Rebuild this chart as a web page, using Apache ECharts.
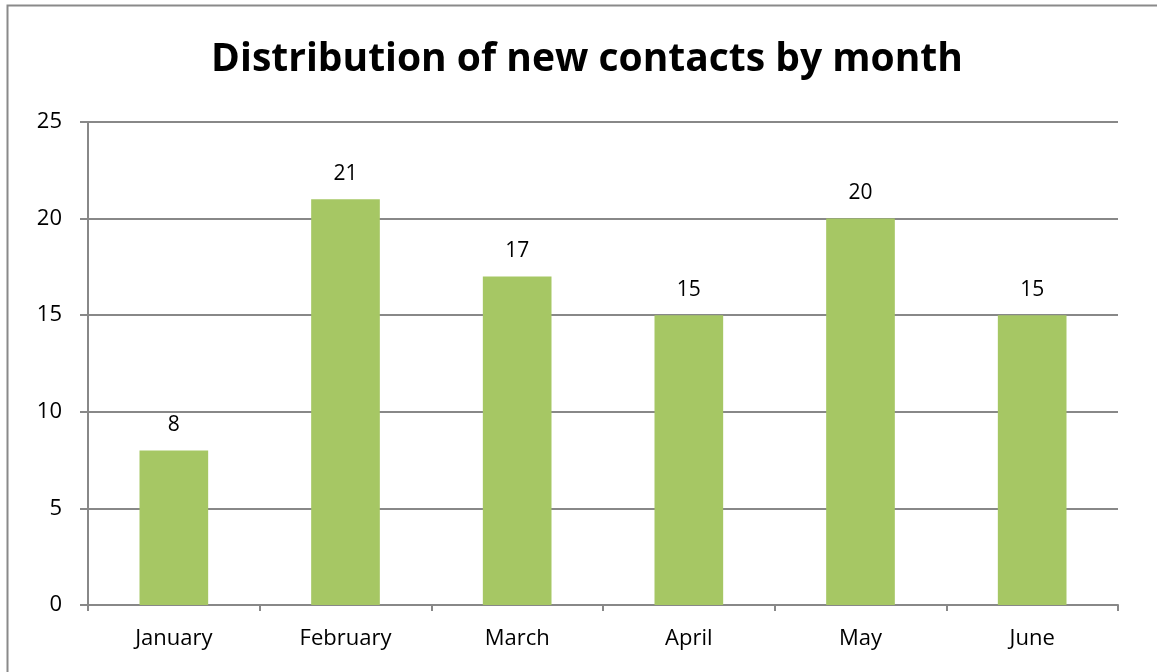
<!DOCTYPE html>
<html>
<head>
<meta charset="utf-8">
<script src="https://cdn.jsdelivr.net/npm/echarts@6/dist/echarts.min.js"></script>
<style>
  html, body { margin: 0; padding: 0; background: #fff; }
  #main { width: 1157px; height: 672px; }
</style>
</head>
<body>
<div id="main"></div>
<script>
var months = ["January", "February", "March", "April", "May", "June"];
var contacts = [8, 21, 17, 15, 20, 15];
var yTicks = [0, 5, 10, 15, 20, 25];

var chart = echarts.init(document.getElementById("main"));
var gridColor = "#888888";
var font = "Open Sans, Liberation Sans, sans-serif";

var option = {
  animation: false,
  backgroundColor: "#fff",
  textStyle: { fontFamily: font },
  graphic: [{
    type: "rect",
    shape: { x: 7.5, y: 5.5, width: 1160, height: 700 },
    style: { fill: "none", stroke: "#8a8a8a", lineWidth: 2 },
    silent: true
  }],
  title: {
    text: "Distribution of new contacts by month",
    left: 582,
    textAlign: "center",
    top: 35,
    textStyle: { fontSize: 39, fontWeight: "bold", color: "#000", fontFamily: font }
  },
  grid: { left: 88, right: 39, top: 122, bottom: 67 },
  xAxis: {
    type: "category",
    data: months,
    axisLine: { lineStyle: { color: gridColor, width: 2 } },
    axisTick: { show: true, length: 6, lineStyle: { color: gridColor, width: 2 } },
    axisLabel: { color: "#000", fontSize: 22, margin: 23 }
  },
  yAxis: {
    type: "value",
    min: yTicks[0],
    max: yTicks[yTicks.length - 1],
    interval: yTicks[1] - yTicks[0],
    axisLine: { show: true, lineStyle: { color: gridColor, width: 2 } },
    axisTick: { show: true, length: 8, lineStyle: { color: gridColor, width: 2 } },
    splitLine: { show: true, lineStyle: { color: gridColor, width: 2 } },
    axisLabel: { color: "#000", fontSize: 22, margin: 26 }
  },
  series: [{
    type: "bar",
    data: contacts,
    barCategoryGap: "60%",
    itemStyle: { color: "#a6c764" },
    label: { show: true, position: "top", distance: 15, color: "#000", fontSize: 21 }
  }]
};
chart.setOption(option);
</script>
</body>
</html>
